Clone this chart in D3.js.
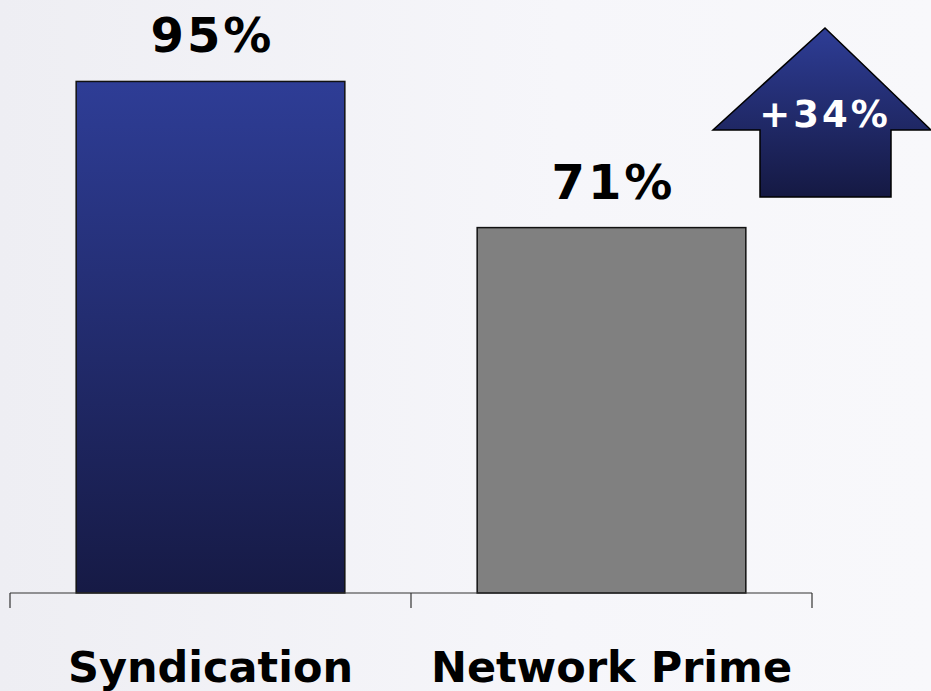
<!DOCTYPE html>
<html>
  <head>
    <meta charset="utf-8" />
    <title>Syndication vs Network Prime</title>
    <script src="https://d3js.org/d3.v7.min.js"></script>
    <style>
      html, body {
        margin: 0;
        padding: 0;
      }
      body {
        font-family: "DejaVu Sans", Verdana, sans-serif;
      }
    </style>
  </head>
  <body>
    <svg width="931" height="691"></svg>

    <script>
      // data
      const categories = ["Syndication", "Network Prime"];
      const values = [95, 71];
      const valueLabels = ["95%", "71%"];
      const changeLabel = "+34%";

      const svg = d3.select("svg");
      const width = +svg.attr("width");
      const height = +svg.attr("height");

      const defs = svg.append("defs");

      const bg = defs.append("linearGradient")
        .attr("id", "bg").attr("x1", 0).attr("y1", 0).attr("x2", 1).attr("y2", 0);
      bg.append("stop").attr("offset", "0%").attr("stop-color", "#eeeef3");
      bg.append("stop").attr("offset", "60%").attr("stop-color", "#f6f6fa");
      bg.append("stop").attr("offset", "100%").attr("stop-color", "#f8f8fb");

      const blue = defs.append("linearGradient")
        .attr("id", "blue").attr("x1", 0).attr("y1", 0).attr("x2", 0).attr("y2", 1);
      blue.append("stop").attr("offset", "0%").attr("stop-color", "#2e3d96");
      blue.append("stop").attr("offset", "100%").attr("stop-color", "#161a45");

      const arrowGrad = defs.append("linearGradient")
        .attr("id", "arrowGrad").attr("x1", 0).attr("y1", 0).attr("x2", 0).attr("y2", 1);
      arrowGrad.append("stop").attr("offset", "0%").attr("stop-color", "#2e3d96");
      arrowGrad.append("stop").attr("offset", "100%").attr("stop-color", "#151943");

      svg.append("rect")
        .attr("width", width).attr("height", height)
        .attr("fill", "url(#bg)");

      const baseline = 593;

      const x = d3.scaleBand()
        .domain(categories)
        .range([10, 812])
        .paddingInner(0.33)
        .paddingOuter(0.165);

      const y = d3.scaleLinear()
        .domain([11, 100])
        .range([baseline, 51]);

      const fills = ["url(#blue)", "#808080"];

      // bars
      svg.selectAll("rect.bar")
        .data(values)
        .join("rect")
        .attr("class", "bar")
        .attr("x", (d, i) => x(categories[i]))
        .attr("y", d => y(d))
        .attr("width", x.bandwidth())
        .attr("height", d => baseline - y(d))
        .attr("fill", (d, i) => fills[i])
        .attr("stroke", "#111")
        .attr("stroke-width", 1.5);

      // value labels
      svg.selectAll("text.val")
        .data(values)
        .join("text")
        .attr("class", "val")
        .attr("x", (d, i) => x(categories[i]) + x.bandwidth() / 2 + 2)
        .attr("y", d => y(d) - 29)
        .attr("text-anchor", "middle")
        .attr("font-size", 48)
        .attr("font-weight", "bold")
        .attr("letter-spacing", 3)
        .attr("fill", "#000")
        .text((d, i) => valueLabels[i]);

      // category axis: line with ticks at band boundaries
      const [r0, r1] = x.range();
      const step = x.step();
      const bounds = d3.range(categories.length + 1).map(i => r0 + i * (r1 - r0) / categories.length);
      const axis = svg.append("g");
      axis.append("line")
        .attr("x1", r0).attr("x2", r1)
        .attr("y1", baseline).attr("y2", baseline)
        .attr("stroke", "#333").attr("stroke-width", 1.2);
      axis.selectAll("line.tick")
        .data(bounds)
        .join("line")
        .attr("class", "tick")
        .attr("x1", d => d).attr("x2", d => d)
        .attr("y1", baseline).attr("y2", baseline + 15)
        .attr("stroke", "#333").attr("stroke-width", 1.2);

      axis.selectAll("text.cat")
        .data(categories)
        .join("text")
        .attr("class", "cat")
        .attr("x", d => x(d) + x.bandwidth() / 2)
        .attr("y", 682)
        .attr("text-anchor", "middle")
        .attr("font-size", 43)
        .attr("font-weight", "bold")
        .attr("fill", "#000")
        .text(d => d);

      // change arrow
      const arrow = [
        [825, 28], [931, 130], [891, 130], [891, 197],
        [760, 197], [760, 130], [713, 130]
      ];
      svg.append("path")
        .attr("d", d3.line()(arrow) + "Z")
        .attr("fill", "url(#arrowGrad)")
        .attr("stroke", "#000")
        .attr("stroke-width", 1.5);

      svg.append("text")
        .attr("x", 825)
        .attr("y", 127)
        .attr("text-anchor", "middle")
        .attr("font-size", 37)
        .attr("font-weight", "bold")
        .attr("letter-spacing", 3)
        .attr("fill", "#fff")
        .text(changeLabel);
    </script>
  </body>
</html>
